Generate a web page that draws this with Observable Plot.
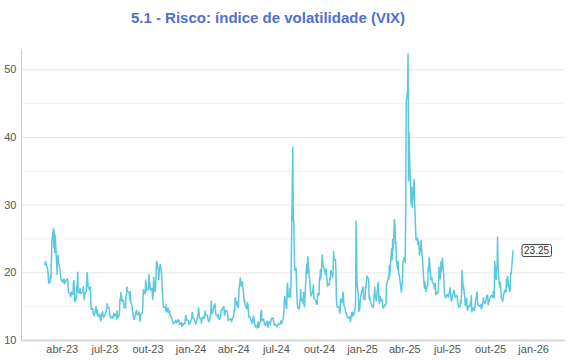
<!DOCTYPE html>
<html>
<head>
<meta charset="utf-8">
<script src="https://cdn.jsdelivr.net/npm/d3@7"></script>
<script src="https://cdn.jsdelivr.net/npm/@observablehq/plot@0.6"></script>
<style>
  body { margin: 0; background: #fff; font-family: "Liberation Sans", Arial, sans-serif; }
  #wrap { position: relative; width: 570px; height: 360px; }
  #title { position: absolute; left: 0; top: 3px; width: 536px; text-align: center; font-weight: bold; font-size: 15px; line-height: 30px; color: #5070d0; }
  #chart { position: absolute; left: 0; top: 30px; }
</style>
</head>
<body>
<div id="wrap">
  <div id="title">5.1 - Risco: índice de volatilidade (VIX)</div>
  <div id="chart"></div>
</div>
<script>
// US market holidays (no quotes on these days)
const holidays = ["2023-04-07","2023-05-29","2023-06-19","2023-07-04","2023-09-04","2023-11-23","2023-12-25",
  "2024-01-01","2024-01-15","2024-02-19","2024-03-29","2024-05-27","2024-06-19","2024-07-04","2024-09-02","2024-11-28","2024-12-25",
  "2025-01-01","2025-01-09","2025-01-20","2025-02-17","2025-04-18","2025-05-26","2025-06-19","2025-07-04","2025-09-01","2025-11-27"];
const firstDay = "2023-02-23";
const lastDay = "2025-11-18";

// Daily VIX closes, one inner array per month (2023 starts in February)
const vix2023 = [
  [21.14,21.67,20.95,20.70],
  [20.58,19.59,18.49,18.61,19.59,19.11,22.61,24.80,26.52,23.73,26.14,22.99,25.51,21.38,19.75,22.26,22.61,21.74,20.60,19.97,19.12,19.02,18.70],
  [19.00,18.58,19.08,18.40,18.97,18.97,19.09,18.91,17.07,16.95,16.83,16.46,17.17,16.77,16.89,18.76,18.84,16.96,15.78],
  [16.08,17.78,18.34,20.09,17.19,16.98,17.71,16.94,16.93,17.03,17.12,17.99,16.87,16.05,16.81,17.21,18.53,20.03,19.14,17.95,17.46,17.94],
  [15.65,14.60,14.73,13.96,13.94,13.65,13.83,15.01,14.61,13.88,14.50,13.54,13.88,13.20,12.91,13.44,14.25,13.74,13.43,13.54,13.59],
  [14.18,14.86,15.44,14.83,14.84,14.32,13.54,13.61,13.34,13.48,13.30,13.76,13.99,13.60,13.91,13.86,13.19,14.41,13.33,13.63],
  [13.93,16.09,15.92,17.10,15.77,15.99,15.96,15.85,14.84,14.82,16.46,16.78,17.89,17.30,17.13,16.97,15.98,17.20,15.68,15.08,14.45,13.88,13.57],
  [13.09,14.02,14.45,14.40,13.84,13.80,14.23,13.48,12.82,13.79,14.00,14.11,15.14,17.54,17.20,16.90,18.94,18.22,17.34,17.52],
  [17.61,19.78,18.58,18.49,17.45,17.70,17.03,16.09,16.69,19.32,17.21,17.88,19.22,21.40,21.71,20.37,18.97,20.19,20.68,21.27,19.75,18.14],
  [16.87,15.66,14.91,14.89,14.81,14.45,15.29,14.17,14.76,14.16,14.18,14.32,13.80,13.41,13.35,12.85,12.46,12.69,12.69,12.98,12.92],
  [12.63,13.08,12.85,12.97,12.35,12.35,12.63,12.07,12.19,12.48,12.28,12.56,12.53,13.67,13.65,13.03,12.99,12.43,12.47,12.45]
];
const vix2024 = [
  [13.20,14.04,14.13,13.35,13.08,12.76,12.69,12.44,12.70,13.84,14.79,14.13,13.30,13.19,12.55,13.14,13.45,13.26,13.60,13.31,14.35],
  [13.88,13.85,13.67,13.06,12.83,12.79,12.93,13.93,15.85,14.38,14.01,14.24,15.42,15.34,14.54,13.75,13.74,13.43,13.84,13.40],
  [13.11,13.49,14.46,14.50,14.44,14.74,15.01,13.76,13.75,14.40,14.41,14.33,13.82,12.92,13.06,13.06,13.19,13.24,12.78,13.01],
  [13.65,14.61,14.33,16.35,16.03,15.19,14.98,15.80,14.91,17.31,19.23,18.40,18.21,18.00,18.71,16.94,15.69,15.97,15.37,15.03,14.67,15.65],
  [15.39,14.68,13.49,13.49,13.23,13.00,12.69,12.55,13.60,13.42,12.45,12.42,11.99,12.15,11.86,12.29,12.77,11.93,12.92,14.28,14.47,12.92],
  [13.11,13.16,12.63,12.58,12.22,12.74,12.85,12.04,11.94,12.66,12.75,12.30,13.28,13.20,13.33,12.84,12.55,12.24,12.44],
  [12.22,12.03,12.09,12.48,12.37,12.51,12.85,12.89,12.46,13.12,13.19,14.48,15.93,16.52,14.91,14.72,18.04,18.46,16.39,16.60,17.69,16.36],
  [18.59,23.39,38.57,27.71,27.85,23.79,20.37,20.71,18.12,16.19,15.23,14.80,14.65,15.88,16.27,17.55,15.86,16.15,15.43,17.11,15.65,15.00],
  [20.72,21.32,19.90,22.38,19.45,19.08,17.69,17.07,16.56,17.14,17.61,18.23,16.33,16.15,15.89,15.39,15.41,15.37,16.96,16.73],
  [19.26,18.90,20.49,19.21,22.64,21.42,20.86,20.93,20.46,19.70,20.64,19.58,19.11,18.03,18.37,18.20,19.24,19.08,20.33,19.80,19.34,20.35,23.16],
  [21.88,21.98,20.49,16.27,15.20,14.94,14.97,14.71,14.02,14.31,16.14,15.58,16.35,17.16,16.87,15.24,14.60,14.10,14.10,13.51],
  [13.34,13.30,13.45,13.54,12.77,14.19,14.18,13.58,13.92,13.81,14.69,15.87,27.62,24.09,18.36,16.78,14.27,14.73,15.95,17.40,17.35]
];
const vix2025 = [
  [17.93,16.13,16.04,17.82,17.70,19.54,19.19,18.71,16.12,16.60,15.97,15.06,15.10,15.02,14.85,17.90,16.41,16.56,15.84,16.43],
  [18.62,17.21,15.77,15.50,16.54,15.81,16.02,15.89,15.10,14.77,15.35,15.27,15.66,18.21,18.98,19.43,19.10,21.13,19.63],
  [22.78,23.51,21.93,24.87,23.37,27.86,26.92,24.23,24.66,21.77,20.51,21.70,19.90,19.80,19.28,17.48,17.15,18.33,18.69,21.65,22.28],
  [21.77,21.51,30.02,45.31,46.98,52.33,33.62,40.72,37.56,30.89,30.12,32.64,29.65,33.82,30.57,28.45,26.47,24.84,25.15,24.17,24.70],
  [24.60,22.68,23.64,24.76,23.55,22.48,21.90,18.39,17.72,18.62,17.83,17.24,18.14,18.09,20.87,20.28,22.29,18.96,19.31,19.18,18.57],
  [18.36,17.69,17.61,18.48,16.77,17.16,16.95,17.26,18.02,20.82,19.11,21.60,20.14,22.17,19.83,17.48,16.76,16.59,16.32,16.73],
  [16.83,16.64,16.38,17.79,16.81,15.94,15.78,16.40,17.20,17.38,17.16,16.52,16.41,16.65,16.50,15.37,15.39,14.93,15.03,15.98,15.48,16.72],
  [20.38,17.52,17.85,16.77,16.57,15.15,16.25,14.73,14.49,14.83,15.09,15.00,15.57,15.69,16.60,14.22,14.79,14.62,14.85,14.43,15.36],
  [17.17,16.35,15.30,15.18,15.11,15.04,15.35,14.71,14.76,15.69,16.36,15.72,15.70,15.45,16.10,16.64,16.18,16.74,15.29,16.12,16.28],
  [16.29,16.63,16.65,16.37,17.24,16.30,16.43,21.66,19.03,20.81,20.64,25.31,20.78,18.23,17.87,18.60,17.30,16.37,15.79,16.42,16.92,16.91,17.44],
  [17.17,19.00,18.01,19.50,19.08,17.60,17.28,17.51,20.00,19.83,22.38,23.25]
];

const monthNames = ["jan","fev","mar","abr","mai","jun","jul","ago","set","out","nov","dez"];
const xTickDates = ["2023-04-01","2023-07-01","2023-10-01","2024-01-01","2024-04-01","2024-07-01","2024-10-01","2025-01-01","2025-04-01","2025-07-01","2025-10-01","2026-01-01"];
const yTicks = [10, 20, 30, 40, 50];
const yMinor = [15, 25, 35, 45];
const xDomain = ["2023-01-04", "2026-03-10"];
const yDomain = [10, 53];

const hol = new Set(holidays);
function tradingDays(y, m) {
  const days = [];
  for (let d = new Date(Date.UTC(y, m, 1)); d.getUTCMonth() === ((m % 12) + 12) % 12; d = new Date(d.getTime() + 864e5)) {
    const wd = d.getUTCDay();
    const iso = d.toISOString().slice(0, 10);
    if (wd === 0 || wd === 6 || hol.has(iso) || iso < firstDay || iso > lastDay) continue;
    days.push(d);
  }
  return days;
}
const data = [];
[[2023, 1, vix2023], [2024, 0, vix2024], [2025, 0, vix2025]].forEach(([y, m0, months]) => {
  months.forEach((vals, k) => {
    const days = tradingDays(y, m0 + k);
    vals.forEach((v, i) => {
      const j = vals.length === days.length ? i : Math.round(i * (days.length - 1) / Math.max(1, vals.length - 1));
      data.push({date: days[j], value: v});
    });
  });
});
const last = data[data.length - 1];
const lastLabel = last.value.toFixed(2);

const chart = Plot.plot({
  width: 570,
  height: 330,
  marginLeft: 21,
  marginRight: 5,
  marginTop: 19,
  marginBottom: 20,
  style: {fontFamily: "'Liberation Sans', Arial, sans-serif", background: "transparent"},
  x: {type: "utc", domain: xDomain.map(d => new Date(d))},
  y: {domain: yDomain},
  marks: [
    Plot.ruleY(yMinor, {stroke: "#f2f2f2", strokeWidth: 1}),
    Plot.ruleY(yTicks.slice(1), {stroke: "#e8e8e8", strokeWidth: 1}),
    Plot.ruleY([yDomain[0]], {stroke: "#d9d9d9", strokeWidth: 2}),
    Plot.ruleX([new Date(xDomain[0])], {stroke: "#cccccc", strokeWidth: 1}),
    Plot.axisY({ticks: yTicks, tickSize: 0, tickPadding: 5, fontSize: 11, fill: "#555", label: null}),
    Plot.axisX({ticks: xTickDates.map(d => new Date(d)), tickSize: 0, tickPadding: 5, fontSize: 11, fill: "#555", label: null,
      tickFormat: d => monthNames[d.getUTCMonth()] + "-" + String(d.getUTCFullYear()).slice(2)}),
    Plot.lineY(data, {x: "date", y: "value", stroke: "#5bc8e0", strokeWidth: 1.5}),
    Plot.text([last], {x: "date", y: "value", text: () => lastLabel, dx: 11, textAnchor: "start",
      fontSize: 10, fill: "#333"})
  ]
});
document.getElementById("chart").appendChild(chart);

// box around the end label
const t = Array.from(chart.querySelectorAll("text")).find(el => el.textContent === lastLabel);
if (t) {
  const b = t.getBBox();
  const r = document.createElementNS("http://www.w3.org/2000/svg", "rect");
  r.setAttribute("x", b.x - 2);
  r.setAttribute("y", b.y - 0.5);
  r.setAttribute("width", b.width + 4);
  r.setAttribute("height", b.height + 1);
  r.setAttribute("rx", 2);
  r.setAttribute("fill", "#fff");
  r.setAttribute("stroke", "#444");
  r.setAttribute("stroke-width", 1);
  if (t.getAttribute("transform")) r.setAttribute("transform", t.getAttribute("transform"));
  t.parentNode.insertBefore(r, t);
}
</script>
</body>
</html>
